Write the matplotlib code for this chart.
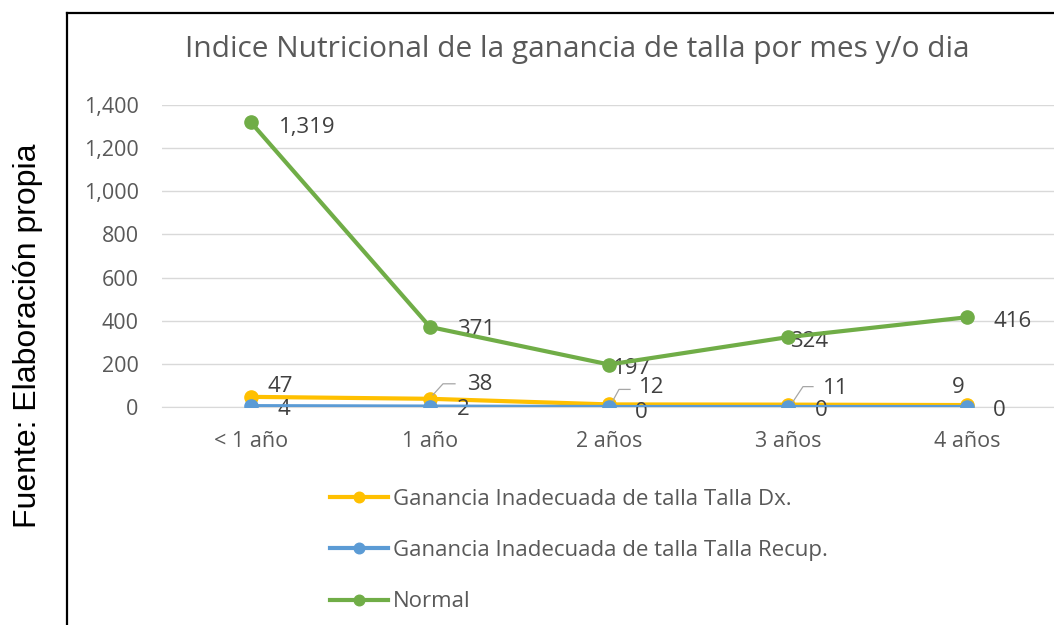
import matplotlib
matplotlib.use("Agg")
from matplotlib import pyplot as plt
from matplotlib.lines import Line2D

# Data
categorias = ['< 1 año', '1 año', '2 años', '3 años', '4 años']
talla_dx = [47, 38, 12, 11, 9]
talla_recup = [4, 2, 0, 0, 0]
normal = [1319, 371, 197, 324, 416]
y_ticks = [0, 200, 400, 600, 800, 1000, 1200, 1400]

c_dx = '#FFC000'
c_recup = '#5B9BD5'
c_normal = '#70AD47'
gris = '#595959'

plt.rcParams['font.family'] = ['Open Sans', 'DejaVu Sans']

fig = plt.figure(figsize=(10.54, 6.25), dpi=100)
W, H = 1054, 625
ax = fig.add_axes([161.5 / W, 1 - 407 / H, (1056.5 - 161.5) / W, (407 - 105) / H])

x = range(len(categorias))
ax.plot(x, talla_dx, color=c_dx, lw=3, marker='o', ms=9.5, label='Ganancia Inadecuada de talla Talla Dx.', zorder=3)
ax.plot(x, talla_recup, color=c_recup, lw=3, marker='o', ms=9.5, label='Ganancia Inadecuada de talla Talla Recup.', zorder=4)
ax.plot(x, normal, color=c_normal, lw=3, marker='o', ms=9.5, label='Normal', zorder=5)

ax.set_xlim(-0.5, 4.5)
ax.set_ylim(0, 1400)
ax.set_yticks(y_ticks)
ax.set_yticklabels([f'{v:,}' for v in y_ticks])
ax.set_xticks(list(x))
ax.set_xticklabels(categorias)
ax.tick_params(axis='both', length=0, labelsize=15.5, colors=gris)
ax.tick_params(axis='y', pad=16.5)
ax.tick_params(axis='x', pad=17)
ax.grid(axis='y', color='#D9D9D9', lw=1)
ax.set_axisbelow(True)
for s in ax.spines.values():
    s.set_visible(False)
ax.spines['bottom'].set_visible(True)
ax.spines['bottom'].set_color('#D9D9D9')

# Data labels (pixel offsets from each point)
lab_kw = dict(textcoords='offset pixels', fontsize=16, color='#404040')
normal_off = [(28, -5), (27, -3), (4, -4), (2, -4), (26, -4)]
for i, v in enumerate(normal):
    ax.annotate(f'{v:,}', (i, v), xytext=normal_off[i], ha='left', va='center', **lab_kw)
dx_off = [(16, 10), (37, 14), (30, 17), (35, 16), (-9, 18)]
for i, v in enumerate(talla_dx):
    ha = 'center' if i == 4 else 'left'
    ax.annotate(str(v), (i, v), xytext=dx_off[i], ha=ha, va='center', **lab_kw)
recup_off = [(27, -3), (27, -3), (26, -6), (27, -3), (26, -3)]
for i, v in enumerate(talla_recup):
    ax.annotate(str(v), (i, v), xytext=recup_off[i], ha='left', va='center', **lab_kw)

# leader lines for Dx labels
fig.canvas.draw()
leaders = {1: [(3, 4), (13, 15), (25, 15)], 2: [(4, 4), (10, 15), (21, 15)], 3: [(5, 3), (15, 18), (25, 18)]}
for i, pts in leaders.items():
    px, py = ax.transData.transform((i, talla_dx[i]))
    fig.add_artist(Line2D([px + a for a, b in pts], [py + b for a, b in pts], transform=None,
                          color='#A6A6A6', lw=0.9))

fig.text(577 / W, 1 - 50 / H, 'Indice Nutricional de la ganancia de talla por mes y/o dia',
         fontsize=21.5, color=gris, ha='center', va='center')

leg = ax.legend(loc='upper left', bbox_to_anchor=(330 / W, 1 - 489 / H), bbox_transform=fig.transFigure,
                frameon=False, fontsize=16, handlelength=2.6, handletextpad=0.22, labelspacing=1.36,
                borderpad=0, borderaxespad=0, markerscale=0.8)
for t in leg.get_texts():
    t.set_color(gris)

# frame and source note
fig.add_artist(Line2D([67 / W, 1], [1 - 13 / H, 1 - 13 / H], color='black', lw=1.6))
fig.add_artist(Line2D([67 / W, 67 / W], [0, 1 - 13 / H], color='black', lw=1.6))
fig.text(28 / W, 1 - 336 / H, 'Fuente: Elaboración propia', rotation=90, ha='center', va='center',
         fontsize=23, family='Liberation Sans', color='black')

fig.savefig('out.png', dpi=100)
